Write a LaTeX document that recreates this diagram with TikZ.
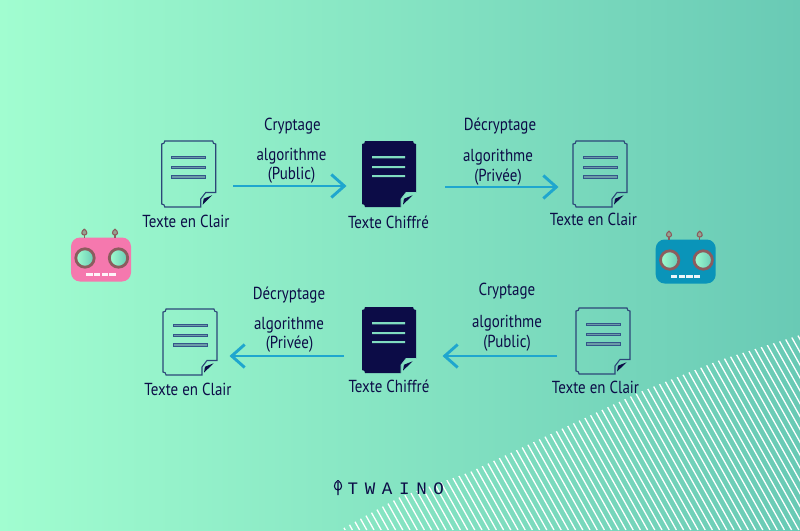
\documentclass[tikz,border=0pt]{standalone}
\usepackage{fontspec}
\setmainfont[FakeStretch=0.86]{PT Sans}
\newfontfamily\logofont{Liberation Mono}
\usetikzlibrary{arrows.meta}
\definecolor{navy}{HTML}{0C0C47}
\definecolor{edge}{HTML}{2C4678}
\definecolor{barfill}{HTML}{6A9CA6}
\definecolor{barline}{HTML}{34558A}
\definecolor{mint}{HTML}{80DCC0}
\definecolor{bgl}{HTML}{A1FDD0}
\definecolor{bgr}{HTML}{69CAB5}
\definecolor{flow}{HTML}{1FA6CE}
\definecolor{ring}{HTML}{8C5C5E}
\definecolor{pinkbot}{HTML}{F578AE}
\definecolor{bluebot}{HTML}{0A94B9}
\tikzset{
  x=1pt,y=-1pt,
  label/.style={font=\fontsize{17.4}{20}\selectfont,text=navy,inner sep=0pt},
  docbox/.style={minimum width=54pt,minimum height=66pt,inner sep=0pt},
  botbox/.style={minimum width=60pt,minimum height=44pt,inner sep=0pt},
  flowline/.style={draw=flow,line width=2.9pt,-{Straight Barb[length=13pt,width=23pt,line width=2.9pt]}},
  pics/docoutline/.style={code={
    \draw[edge,line width=1.1pt,line join=miter] (3,0)--(51,0) .. controls (51,2) and (52,3) .. (54,3)--(54,51.5)--(44,51.5)--(39,58)--(39,66)--(3,66) .. controls (3,64) and (2,63) .. (0,63)--(0,3) .. controls (2,3) and (3,2) .. (3,0)--cycle;
    \draw[barline,line width=.8pt,fill=barfill] (10,15)rectangle(44,17.4) (10,25)rectangle(44,27.4) (10,34.5)rectangle(44,36.9);
    \fill[navy] (41,63.7)--(50.5,54.3)--(42,57.7)--cycle;
  }},
  pics/docsolid/.style={code={
    \fill[navy] (3,0)--(51,0) .. controls (51,2) and (52,3) .. (54,3)--(54,51.5)--(44,51.5)--(39,58)--(39,66)--(3,66) .. controls (3,64) and (2,63) .. (0,63)--(0,3) .. controls (2,3) and (3,2) .. (3,0)--cycle;
    \fill[mint] (10,15)rectangle(43,17.4) (10,25)rectangle(43,27.2) (10,34)rectangle(43,36.2);
    \draw[mint,line width=.7pt] (54,51.5)--(44,51.5)--(39,58)--(39,66);
    \fill[navy] (41,63.7)--(50.5,54.3)--(42,57.7)--cycle;
  }},
  pics/botface/.style={code={
    \fill[#1,rounded corners=9pt] (0,0) rectangle (60,44);
    \foreach \ex in {14,47.5}{
      \shade[left color=bgl,right color=bgr,draw=ring,line width=2.8pt] (\ex,20.5) circle (9.2);
    }
    \foreach \ax in {13.3,44}{
      \draw[ring,line width=1.1pt] (\ax,-8) -- (\ax,0);
      \draw[ring,line width=1.1pt,fill=ring!55!bgl] (\ax,-8.5) .. controls (\ax+3.9,-5.5) and (\ax+2.7,-2.5) .. (\ax,-2.5) .. controls (\ax-2.7,-2.5) and (\ax-3.9,-5.5) .. (\ax,-8.5);
    }
    \foreach \mx in {15.3,23,30.7,38.4}{
      \fill[white!92!#1] (\mx,35.7) rectangle (\mx+6.2,38.2);
    }
  }}
}
\begin{document}
\begin{tikzpicture}
\useasboundingbox (0,0) rectangle (800,530);
\shade[left color=bgl,right color=bgr] (0,0) rectangle (800,530);
% hatched corner
\begin{scope}
\clip (340,530) -- (400,497) -- (470,472) -- (640,392) -- (720,360) -- (800,335) -- (800,530) -- cycle;
\foreach \h in {0,1,...,100}{
  \draw[white,line width=1.3pt] (190+\h*7.2,330) -- (302+\h*7.2,530);
}
\end{scope}
% documents
\node[docbox] (docA) at (188.7,174) {}; \pic at (161.7,141) {docoutline};
\node[docbox] (docB) at (389,174) {};   \pic at (362,141) {docsolid};
\node[docbox] (docC) at (600,174) {};   \pic at (573,141) {docoutline};
\node[docbox] (docD) at (190,342) {};   \pic at (163,309) {docoutline};
\node[docbox] (docE) at (389,340) {};   \pic at (362,307) {docsolid};
\node[docbox] (docF) at (603,341) {};   \pic at (576,308) {docoutline};
% robots
\node[botbox] (botL) at (101,259.5) {}; \pic at (71,237.5) {botface=pinkbot};
\node[botbox] (botR) at (685.7,261.5) {}; \pic at (655.7,239.5) {botface=bluebot};
% arrows
\coordinate (s1) at (233,186); \coordinate (e1) at (346.5,186);
\coordinate (s2) at (445,187); \coordinate (e2) at (558.5,187);
\coordinate (s3) at (344,356); \coordinate (e3) at (229.5,356);
\coordinate (s4) at (557,356); \coordinate (e4) at (442.5,356);
\draw[flowline] (s1) -- (e1);
\draw[flowline] (s2) -- (e2);
\draw[flowline] (s3) -- (e3);
\draw[flowline] (s4) -- (e4);
% labels
\node[label] (t1) at (292.5,126) {Cryptage};
\node[label] (t2) at (291.5,156) {algorithme};
\node[label] (t3) at (291.5,175) {(Public)};
\node[label] (t4) at (500,126) {Décryptage};
\node[label] (t5) at (498,157.5) {algorithme};
\node[label] (t6) at (498,177) {(Privée)};
\node[label] (t7) at (186,221) {Texte en Clair};
\node[label] (t8) at (388.5,222) {Texte Chiffré};
\node[label] (t9) at (593.5,219) {Texte en Clair};
\node[label] (t10) at (289,295) {Décryptage};
\node[label] (t11) at (289,325.5) {algorithme};
\node[label] (t12) at (289.5,344) {(Privée)};
\node[label] (t13) at (507,291) {Cryptage};
\node[label] (t14) at (507,323.5) {algorithme};
\node[label] (t15) at (507,343) {(Public)};
\node[label] (t16) at (188,389) {Texte en Clair};
\node[label] (t17) at (389,386) {Texte Chiffré};
\node[label] (t18) at (595.5,387) {Texte en Clair};
% logo
\draw[navy,line width=1.1pt] (338,495) -- (338,482) (338,480.5) .. controls (343,483) and (342.5,490) .. (338,490) .. controls (333.5,490) and (333,483) .. (338,480.5);
\node[inner sep=0pt,anchor=base west,text=navy] (logo) at (347.5,494) {\logofont\addfontfeature{LetterSpace=38}\fontsize{17.5}{20}\selectfont TWAINO};
\end{tikzpicture}
\end{document}
